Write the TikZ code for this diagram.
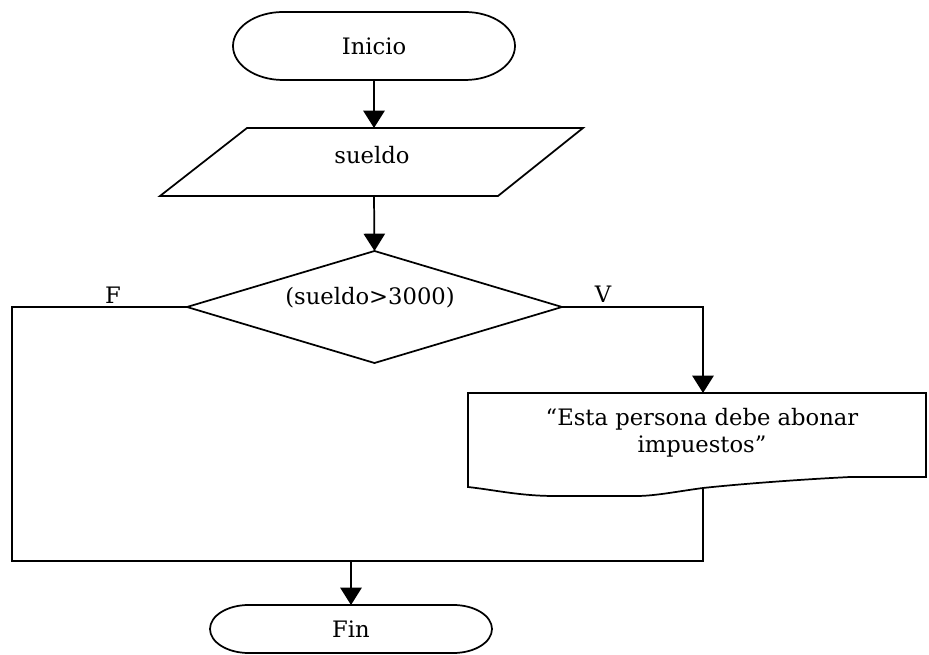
\documentclass[tikz,border=0pt]{standalone}
\usepackage{fontspec}
\setmainfont{DejaVu Serif}
\usetikzlibrary{arrows.meta,shapes.geometric}
\tikzset{
  flow/.style={line width=1.3pt},
  flowarrow/.style={flow,-{Triangle[width=16pt,length=13pt]}},
  caption/.style={font=\fontsize{17}{20.25}\selectfont,inner sep=1pt},
  endpoint/.style={minimum width=211.5pt,inner sep=0pt,outer sep=0pt,
    font=\fontsize{17}{20.25}\selectfont},
  decision/.style={diamond,draw,flow,minimum width=281.25pt,
    minimum height=84pt,inner sep=0pt,outer sep=0pt}
}
\begin{document}
\begin{tikzpicture}[x=0.75pt,y=-0.75pt]
      \useasboundingbox (0,0) rectangle (929,655);
      % terminals
      \node[endpoint,minimum height=51pt] (inicio) at (374,46) {Inicio};
      \draw[flow] ([xshift=37.5pt]inicio.north west) -- ([xshift=-37.5pt]inicio.north east)
        arc[start angle=90,end angle=-90,x radius=37.5pt,y radius=25.5pt]
        -- ([xshift=37.5pt]inicio.south west)
        arc[start angle=270,end angle=90,x radius=37.5pt,y radius=25.5pt] -- cycle;
      \node[endpoint,minimum height=36pt] (fin) at (351,629) {Fin};
      \draw[flow] ([xshift=29pt]fin.north west) -- ([xshift=-29pt]fin.north east)
        arc[start angle=90,end angle=-90,x radius=29pt,y radius=18pt]
        -- ([xshift=29pt]fin.south west)
        arc[start angle=270,end angle=90,x radius=29pt,y radius=18pt] -- cycle;
      % entrada
      \draw[flow] (247,128) -- (583,128) -- (498,196) -- (160,196) -- cycle;
      \node[caption] (sueldo) at (372,155) {sueldo};
      \coordinate (inTop) at (374,128);
      \coordinate (inBot) at (374,196);
      % decision
      \node[decision] (cond) at (374.5,307) {};
      \node[caption] (condtxt) at (370,298) {(sueldo>3000)};
      \node[caption] (flabel) at (113,295) {F};
      \node[caption] (vlabel) at (603,294) {V};
      % salida
      \draw[flow] (468,393) -- (926,393) -- (926,477) -- (850,477)
        .. controls (790,480) and (730,485) .. (703,488)
        .. controls (680,491) and (655,496) .. (637,496) -- (555,496)
        .. controls (520,496) and (495,490) .. (468,487) -- cycle;
      \node[caption,align=center] (msg) at (702,433) {“Esta persona debe abonar\\impuestos”};
      \coordinate (docTop) at (703,393);
      \coordinate (docBot) at (703,488);
      \coordinate (fcorner) at (12,307);
      \coordinate (join) at (351,561);
      \begin{scope}[flowarrow]
        \draw (inicio) to (inTop);
        \draw (inBot) to (cond.north);
        \draw (cond.east) -| (docTop);
        \draw (join) to (fin.north);
      \end{scope}
      \begin{scope}[flow]
        \draw (cond.west) -- (fcorner) |- (join);
        \draw (docBot) |- (join);
      \end{scope}
    \end{tikzpicture}
\end{document}
